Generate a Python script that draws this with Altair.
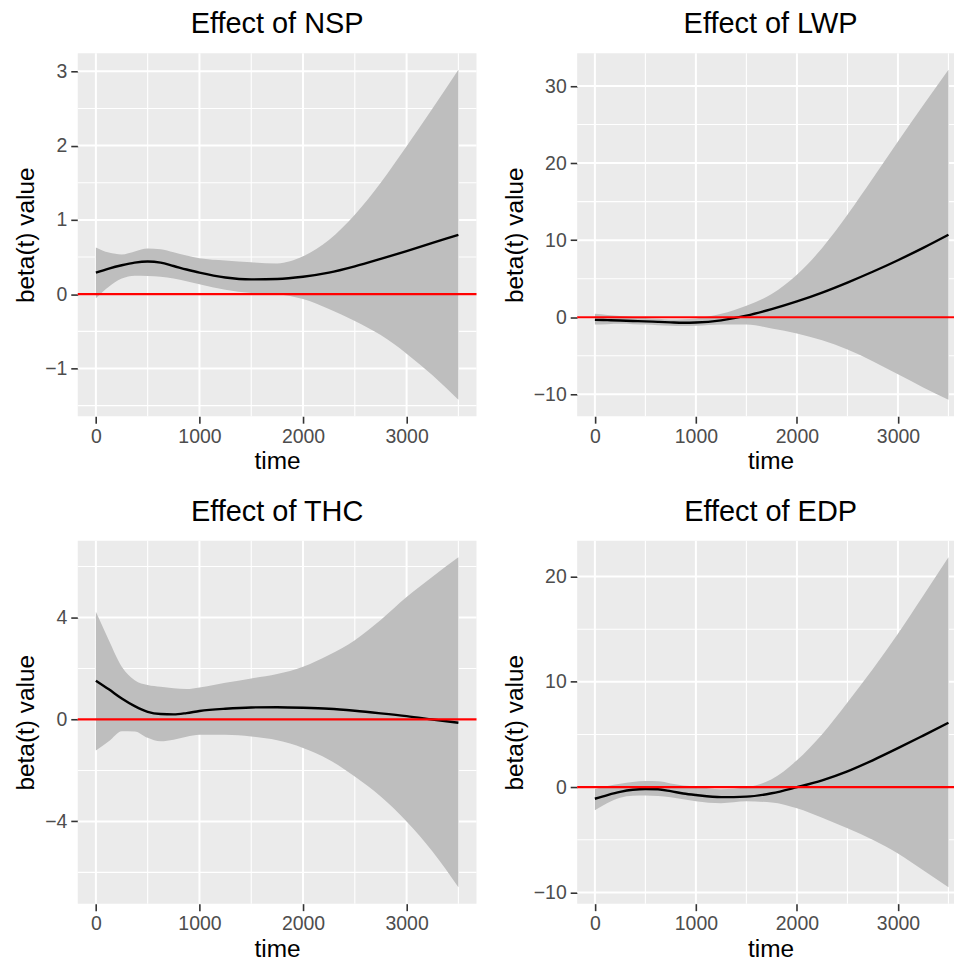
import altair as alt
import pandas as pd

FONT = "Liberation Sans"

time = [0, 125, 250, 375, 500, 625, 750, 875, 1000, 1250, 1500, 1750, 2000, 2250, 2500, 2750, 3000, 3250, 3500]

nsp_mean = [0.29, 0.345, 0.39, 0.425, 0.44, 0.425, 0.38, 0.333, 0.29, 0.225, 0.20, 0.205, 0.235, 0.29, 0.375, 0.475, 0.58, 0.69, 0.80]
nsp_upper = [0.63, 0.56, 0.535, 0.575, 0.615, 0.605, 0.565, 0.52, 0.485, 0.455, 0.43, 0.415, 0.51, 0.73, 1.07, 1.5, 1.99, 2.5, 3.02]
nsp_lower = [-0.055, 0.10, 0.21, 0.25, 0.245, 0.235, 0.21, 0.175, 0.135, 0.06, 0.015, 0.0, -0.065, -0.2, -0.36, -0.55, -0.8, -1.09, -1.42]

lwp_mean = [-0.34, -0.38, -0.43, -0.48, -0.53, -0.6, -0.67, -0.72, -0.69, -0.4, 0.2, 1.05, 2.05, 3.2, 4.5, 5.9, 7.4, 9.0, 10.7]
lwp_upper = [0.45, 0.3, 0.15, 0.03, -0.09, -0.2, -0.28, -0.25, -0.15, 0.45, 1.5, 3.0, 5.5, 9.0, 13.3, 18.0, 22.8, 27.5, 32.1]
lwp_lower = [-0.95, -0.9, -0.86, -0.9, -0.95, -1.05, -1.12, -1.15, -1.12, -0.95, -0.95, -1.45, -2.1, -3.0, -4.2, -5.7, -7.4, -9.1, -10.7]

thc_mean = [1.52, 1.18, 0.82, 0.52, 0.30, 0.215, 0.2, 0.25, 0.33, 0.42, 0.47, 0.48, 0.46, 0.42, 0.34, 0.24, 0.13, 0.0, -0.13]
thc_upper = [4.22, 3.11, 2.07, 1.54, 1.35, 1.28, 1.22, 1.19, 1.25, 1.44, 1.61, 1.78, 2.07, 2.53, 3.11, 3.9, 4.8, 5.6, 6.36]
thc_lower = [-1.22, -0.86, -0.46, -0.47, -0.72, -0.86, -0.8, -0.68, -0.6, -0.6, -0.67, -0.82, -1.12, -1.58, -2.24, -3.02, -4.0, -5.18, -6.58]

edp_mean = [-1.1, -0.75, -0.45, -0.25, -0.17, -0.2, -0.38, -0.6, -0.75, -0.95, -0.9, -0.58, 0.0, 0.65, 1.5, 2.55, 3.7, 4.9, 6.12]
edp_upper = [-0.18, 0.1, 0.32, 0.5, 0.58, 0.55, 0.35, 0.15, 0.05, -0.2, -0.02, 0.75, 2.55, 5.03, 8.05, 11.2, 14.58, 18.19, 21.83]
edp_lower = [-2.2, -1.5, -1.0, -0.82, -0.79, -0.85, -0.95, -1.15, -1.33, -1.52, -1.35, -1.45, -2.0, -2.9, -3.9, -5.0, -6.3, -7.9, -9.5]

x_major = [0, 1000, 2000, 3000]
x_minor = [500, 1500, 2500, 3500]

nsp_y_major = [-1, 0, 1, 2, 3]
nsp_y_minor = [-1.5, -0.5, 0.5, 1.5, 2.5]
lwp_y_major = [-10, 0, 10, 20, 30]
lwp_y_minor = [-5, 5, 15, 25]
thc_y_major = [-4, 0, 4]
thc_y_minor = [-6, -2, 2, 6]
edp_y_major = [-10, 0, 10, 20]
edp_y_minor = [-5, 5, 15]

zero_line = [0]

titles = ["Effect of NSP", "Effect of LWP", "Effect of THC", "Effect of EDP"]


def panel(title, mean, lower, upper, ymaj, ymin, width, x_hi, shift):
    df = pd.DataFrame({"time": time, "mean": mean, "lower": lower, "upper": upper})
    lo, hi = min(lower), max(upper)
    r = hi - lo
    xs = alt.Scale(domain=[-0.05 * max(time), x_hi], nice=False, zero=False)
    ys = alt.Scale(domain=[lo - 0.05 * r, hi + 0.05 * r], nice=False, zero=False)
    xaxis = alt.Axis(values=x_major, title="time", grid=False, domain=False, format="d",
                     tickColor="#333333", tickSize=7, tickWidth=1.6, labelPadding=4,
                     labelColor="#4D4D4D", labelFontSize=19.5, labelFont=FONT, labelFlush=False,
                     labelOverlap=False, titleFont=FONT, titleFontSize=24.5,
                     titleFontWeight="normal", titleColor="black", titlePadding=4,
                     titleX=width / 2 + shift)
    yaxis = alt.Axis(values=ymaj, title="beta(t) value", grid=False, domain=False, format="d",
                     tickColor="#333333", tickSize=7, tickWidth=1.6, labelPadding=4,
                     labelColor="#4D4D4D", labelFontSize=19.5, labelFont=FONT, labelFlush=False,
                     labelOverlap=False, titleFont=FONT, titleFontSize=24.5,
                     titleFontWeight="normal", titleColor="black", titlePadding=6)
    X = lambda f: alt.X(f, scale=xs, axis=xaxis)
    Y = lambda f: alt.Y(f, scale=ys, axis=yaxis)
    minor_y = alt.Chart(pd.DataFrame({"v": ymin})).mark_rule(color="white", strokeWidth=1.1).encode(y=Y("v:Q"))
    minor_x = alt.Chart(pd.DataFrame({"v": x_minor})).mark_rule(color="white", strokeWidth=1.1).encode(x=X("v:Q"))
    major_y = alt.Chart(pd.DataFrame({"v": ymaj})).mark_rule(color="white", strokeWidth=2).encode(y=Y("v:Q"))
    major_x = alt.Chart(pd.DataFrame({"v": x_major})).mark_rule(color="white", strokeWidth=2).encode(x=X("v:Q"))
    area = alt.Chart(df).mark_area(color="#BEBEBE", opacity=1, interpolate="monotone").encode(
        x=X("time:Q"), y=Y("lower:Q"), y2="upper:Q")
    line = alt.Chart(df).mark_line(color="black", strokeWidth=2.4, interpolate="monotone").encode(
        x=X("time:Q"), y=Y("mean:Q"))
    zero = alt.Chart(pd.DataFrame({"v": zero_line})).mark_rule(color="red", strokeWidth=2.2).encode(y=Y("v:Q"))
    return alt.layer(minor_y, minor_x, major_y, major_x, area, line, zero,
                     title=alt.TitleParams(title, font=FONT, fontSize=29, fontWeight="normal",
                                           color="black", anchor="middle", frame="group",
                                           offset=13, dx=shift)).properties(width=width, height=364)


p1 = panel(titles[0], nsp_mean, nsp_lower, nsp_upper, nsp_y_major, nsp_y_minor, 400, 3675, 0)
p2 = panel(titles[1], lwp_mean, lwp_lower, lwp_upper, lwp_y_major, lwp_y_minor, 378, 3555, 5)
p3 = panel(titles[2], thc_mean, thc_lower, thc_upper, thc_y_major, thc_y_minor, 400, 3675, 0)
p4 = panel(titles[3], edp_mean, edp_lower, edp_upper, edp_y_major, edp_y_minor, 378, 3555, 5)

chart = alt.concat(p1, p2, p3, p4, columns=2, spacing={"row": 125, "column": 101}, bounds="flush").properties(
    padding={"left": 13, "top": 9, "right": 0, "bottom": 0}, background="white"
).configure_view(fill="#EBEBEB", stroke=None)

chart.save("out.html", embed_options={"renderer": "svg", "actions": False})
